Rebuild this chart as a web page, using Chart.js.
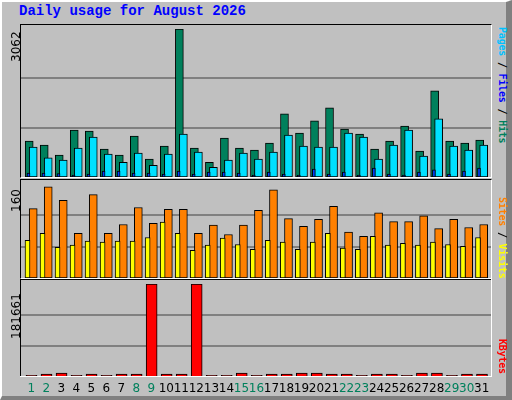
<!DOCTYPE html>
<html><head><meta charset="utf-8">
<script src="https://cdn.jsdelivr.net/npm/chart.js@4/dist/chart.umd.min.js"></script>
<style>
body{margin:0;width:512px;height:400px;overflow:hidden;background:#fff;}
#frame{position:absolute;left:0;top:0;width:504px;height:394px;background:#C0C0C0;border-left:2px solid #fff;border-top:2px solid #fff;border-right:6px solid #808080;border-bottom:4px solid #808080;box-sizing:content-box;}
.title{position:absolute;left:19px;top:3px;font:bold 14px "Liberation Mono",monospace;color:#0000FF;}
.panel{position:absolute;left:20px;width:470px;border-top:1px solid #000;border-left:1px solid #000;border-right:1px solid #fff;border-bottom:1px solid #fff;}
.panel canvas{display:block}
.ylab{position:absolute;font:12px "DejaVu Sans",sans-serif;color:#000;transform-origin:0 0;transform:rotate(-90deg);white-space:nowrap;}
.rlab{position:absolute;font:bold 10px "DejaVu Sans Mono",monospace;transform-origin:0 0;transform:rotate(90deg);white-space:nowrap;letter-spacing:-0.2px;}
.xl{position:absolute;top:381px;font:12px "DejaVu Sans",sans-serif;transform:translateX(-50%);}
</style></head><body>
<div id="frame"></div>
<div class="title">Daily usage for August 2026</div>
<div class="panel" style="top:24px;height:152px"><canvas id="c1"></canvas></div>
<div class="panel" style="top:179px;height:98px"><canvas id="c2"></canvas></div>
<div class="panel" style="top:279px;height:97px;border-bottom:none;border-right:none"><canvas id="c3"></canvas></div>
<div style="position:absolute;left:20px;top:376px;width:472px;height:1px;background:#fff"></div>
<div style="position:absolute;left:491px;top:279px;width:1px;height:98px;background:#fff"></div>
<div id="xlabs"></div>
<div class="ylab" style="left:9px;top:62px">3062</div>
<div class="ylab" style="left:9px;top:212px">160</div>
<div class="ylab" style="left:9px;top:339px">181661</div>
<div class="rlab" style="left:508px;top:27px"><span style="color:#00C0FF">Pages</span><span style="color:#000"> / </span><span style="color:#0000FF">Files</span><span style="color:#000"> / </span><span style="color:#00805C">Hits</span></div>
<div class="rlab" style="left:508px;top:197px"><span style="color:#FF8000">Sites</span><span style="color:#000"> / </span><span style="color:#FFFF00">Visits</span></div>
<div class="rlab" style="left:508px;top:339px"><span style="color:#FF0000">KBytes</span></div>
<script>
const days=[1,2,3,4,5,6,7,8,9,10,11,12,13,14,15,16,17,18,19,20,21,22,23,24,25,26,27,28,29,30,31];
const weekend=[1,2,8,9,15,16,22,23,29,30];
const hits=[744,660,452,973,952,577,452,848,369,640,3062,598,306,806,598,556,702,1306,910,1160,1431,994,889,577,744,1056,535,1785,744,702,764];
const pages=[619,396,348,598,827,473,306,494,244,473,889,515,202,348,494,369,515,869,640,619,619,910,827,369,660,973,431,1202,640,556,660];
const files=[83,83,70,42,62,125,125,83,83,62,125,62,104,104,83,42,104,62,42,166,62,104,42,187,62,42,104,146,62,125,187];
const sites=[118,155,132,76,142,76,91,120,93,117,117,76,90,74,90,115,150,101,88,100,122,78,71,111,96,96,106,84,100,86,91];
const visits=[64,76,52,56,63,61,63,63,69,95,76,47,56,68,57,49,64,61,49,61,76,51,49,71,56,59,56,61,57,54,69];
const kbytes=[3500,5500,7500,3500,5500,3500,5500,5500,181661,5500,5500,181661,3500,3500,7500,3500,5500,5500,7500,7500,5500,5500,3500,5500,5500,3500,7500,7500,3500,5500,5500];

function pts(arr,off){return arr.map((v,i)=>({x:days[i]+off,y:v}));}
function ds(arr,off,color,w,order){return {data:pts(arr,off),backgroundColor:color,borderColor:'#000',borderWidth:1,barThickness:w,grouped:false,order:order,borderSkipped:false};}
const gridPlugin={id:'grid',beforeDatasetsDraw(ch){const y=ch.scales.y,a=ch.chartArea,c=ch.ctx,m=ch.options.plugins.grid.max;c.save();c.strokeStyle='#808080';c.lineWidth=2;[m/3,2*m/3].forEach(v=>{const p=Math.round(y.getPixelForValue(v));c.beginPath();c.moveTo(a.left,p);c.lineTo(a.right,p);c.stroke();});c.restore();}};
function mk(id,datasets,max){
  return new Chart(document.getElementById(id),{type:'bar',data:{datasets},plugins:[gridPlugin],
  options:{responsive:true,maintainAspectRatio:false,animation:false,layout:{padding:{top:4,left:0,right:0,bottom:0}},
  plugins:{legend:{display:false},tooltip:{enabled:false},grid:{max}},
  scales:{x:{type:'linear',min:0.32,max:31.62,offset:false,display:false},
          y:{min:0,max:max,display:false}}}});
}
const o=1/15;
mk('c1',[ds(hits,-2*o,'#00805C',8,3),ds(pages,2*o,'#00E0FF',8,2),ds(files,-2.7*o,'#0040FF',3,1)],3062);
mk('c2',[ds(sites,2*o,'#FF8000',8,2),ds(visits,-3.7*o,'#FFFF00',5,1)],160);
const c3=mk('c3',[ds(kbytes,0.3*o,'#FF0000',11,1)],181661);
const xs=c3.scales.x, holder=document.getElementById('xlabs');
days.forEach(d=>{const s=document.createElement('div');s.className='xl';s.textContent=d;
  s.style.left=(21+xs.getPixelForValue(d))+'px';s.style.color=weekend.includes(d)?'#00805C':'#000';holder.appendChild(s);});
</script>
</body></html>
